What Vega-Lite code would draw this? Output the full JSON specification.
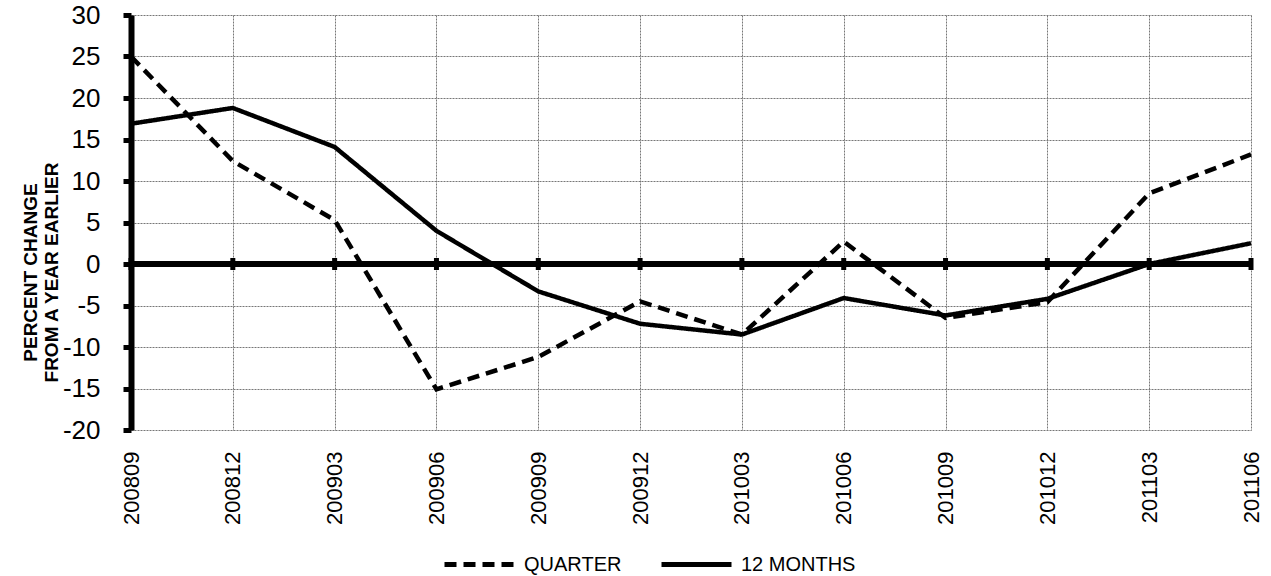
{
  "$schema": "https://vega.github.io/schema/vega-lite/v6.json",
  "width": 1120,
  "height": 415,
  "autosize": "none",
  "padding": {"left": 131, "top": 15, "right": 20, "bottom": 146},
  "background": "white",
  "config": {
    "font": "Liberation Sans",
    "view": {"stroke": null},
    "axis": {
      "grid": true,
      "gridColor": "#777",
      "gridDash": [2, 1],
      "gridWidth": 1,
      "labelColor": "black",
      "titleColor": "black"
    },
    "axisX": {
      "domain": false,
      "ticks": false,
      "labelAngle": 270,
      "labelAlign": "right",
      "labelBaseline": "middle",
      "labelFontSize": 22,
      "labelPadding": 21
    },
    "axisY": {
      "labelFontSize": 26,
      "labelPadding": 23,
      "domainColor": "black",
      "domainWidth": 6,
      "tickColor": "black",
      "tickWidth": 5,
      "tickSize": 8,
      "titleFontSize": 19,
      "titleFontWeight": "bold",
      "titleLineHeight": 21,
      "titleAngle": 270,
      "titleX": -101,
      "titleY": 257,
      "titleAlign": "center",
      "titleBaseline": "middle"
    },
    "legend": {
      "labelFontSize": 20,
      "labelColor": "black"
    }
  },
  "data": {
    "values": [
      {"date": "200809", "series": "QUARTER", "value": 25.0},
      {"date": "200812", "series": "QUARTER", "value": 12.4},
      {"date": "200903", "series": "QUARTER", "value": 5.3},
      {"date": "200906", "series": "QUARTER", "value": -15.1},
      {"date": "200909", "series": "QUARTER", "value": -11.2},
      {"date": "200912", "series": "QUARTER", "value": -4.5},
      {"date": "201003", "series": "QUARTER", "value": -8.5},
      {"date": "201006", "series": "QUARTER", "value": 2.7},
      {"date": "201009", "series": "QUARTER", "value": -6.5},
      {"date": "201012", "series": "QUARTER", "value": -4.6},
      {"date": "201103", "series": "QUARTER", "value": 8.5},
      {"date": "201106", "series": "QUARTER", "value": 13.2},
      {"date": "200809", "series": "12 MONTHS", "value": 16.9},
      {"date": "200812", "series": "12 MONTHS", "value": 18.8},
      {"date": "200903", "series": "12 MONTHS", "value": 14.1},
      {"date": "200906", "series": "12 MONTHS", "value": 4.0},
      {"date": "200909", "series": "12 MONTHS", "value": -3.3},
      {"date": "200912", "series": "12 MONTHS", "value": -7.2},
      {"date": "201003", "series": "12 MONTHS", "value": -8.5},
      {"date": "201006", "series": "12 MONTHS", "value": -4.1},
      {"date": "201009", "series": "12 MONTHS", "value": -6.2},
      {"date": "201012", "series": "12 MONTHS", "value": -4.2},
      {"date": "201103", "series": "12 MONTHS", "value": 0.0},
      {"date": "201106", "series": "12 MONTHS", "value": 2.5}
    ]
  },
  "encoding": {
    "x": {
      "field": "date",
      "type": "ordinal",
      "scale": {"type": "point", "padding": 0},
      "axis": {"title": null}
    }
  },
  "layer": [
    {
      "mark": {"type": "line", "color": "black", "strokeWidth": 4.5},
      "encoding": {
        "y": {
          "field": "value",
          "type": "quantitative",
          "scale": {"domain": [-20, 30], "nice": false, "zero": false},
          "axis": {
            "title": ["PERCENT CHANGE", "FROM A YEAR EARLIER"],
            "values": [-20, -15, -10, -5, 0, 5, 10, 15, 20, 25, 30],
            "labelExpr": "datum.value < 0 ? '-' + abs(datum.value) : '' + datum.value"
          }
        },
        "strokeDash": {
          "field": "series",
          "type": "nominal",
          "scale": {"domain": ["QUARTER", "12 MONTHS"], "range": [[12, 7], [1, 0]]},
          "legend": {
            "title": null,
            "orient": "none",
            "direction": "horizontal",
            "gridAlign": "none",
            "legendX": 311,
            "legendY": 512,
            "symbolType": "stroke",
            "symbolSize": 4900,
            "symbolStrokeWidth": 5,
            "symbolStrokeColor": "black",
            "labelOffset": 7,
            "columnPadding": 29
          }
        }
      }
    },
    {
      "mark": {"type": "rule", "color": "black", "strokeWidth": 6},
      "encoding": {"y": {"datum": 0}, "x": null}
    },
    {
      "transform": [{"filter": "datum.series == 'QUARTER'"}],
      "mark": {"type": "tick", "color": "black", "opacity": 1, "orient": "vertical", "size": 12, "thickness": 5},
      "encoding": {"y": {"datum": 0}}
    }
  ]
}
